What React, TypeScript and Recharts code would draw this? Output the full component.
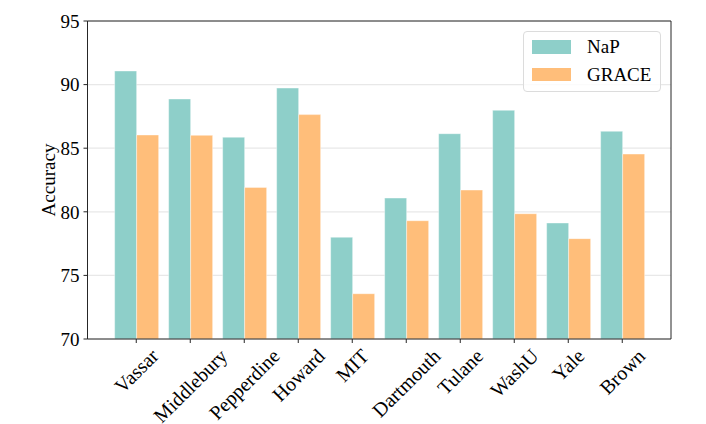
import React from 'react'
import { BarChart, Bar, XAxis, YAxis, CartesianGrid, Legend } from 'recharts'

const schools = ['Vassar', 'Middlebury', 'Pepperdine', 'Howard', 'MIT', 'Dartmouth', 'Tulane', 'WashU', 'Yale', 'Brown']
const napAcc = [91.07, 88.87, 85.86, 89.73, 78.0, 81.08, 86.14, 87.98, 79.12, 86.33]
const graceAcc = [86.04, 86.01, 81.92, 87.64, 73.56, 79.3, 81.71, 79.85, 77.89, 84.54]
const yTicks = [70, 75, 80, 85, 90, 95]

const data = schools.map((school, i) => ({ school, NaP: napAcc[i], GRACE: graceAcc[i] }))

const FONT = '"Liberation Serif", "Times New Roman", serif'
const FS = 19
const XFS = 20
const TEAL = '#8ECFC9'
const ORANGE = '#FFBE7A'
const SPINE = '#262626'

let ctx: CanvasRenderingContext2D | null = null
function textWidth(s: string, fs: number) {
  if (!ctx) ctx = document.createElement('canvas').getContext('2d')
  if (!ctx) return s.length * fs * 0.5
  ctx.font = `${fs}px ${FONT}`
  return ctx.measureText(s).width
}

function XTick(props: any) {
  const { x, y, payload } = props
  const w = textWidth(payload.value, XFS)
  const off = (w + XFS * 0.9) / (2 * Math.SQRT2)
  const cy = y + 3 + off
  return (
    <text
      x={x}
      y={cy}
      textAnchor='middle'
      dominantBaseline='central'
      transform={`rotate(-45 ${x} ${cy})`}
      fontFamily={FONT}
      fontSize={XFS}
      fill='#000'
    >
      {payload.value}
    </text>
  )
}

function YLabel(props: any) {
  const vb = props.viewBox || { x: 0, y: 21, width: 87.5, height: 318 }
  const x = vb.x + 48
  const y = vb.y + vb.height / 2
  return (
    <text x={x} y={y} transform={`rotate(-90 ${x} ${y})`} textAnchor='middle' dominantBaseline='central'
      fontFamily={FONT} fontSize={FS} fill='#000'>
      Accuracy
    </text>
  )
}

function LegendBox() {
  const rows = [
    { name: 'NaP', color: TEAL, top: 8 },
    { name: 'GRACE', color: ORANGE, top: 35.7 },
  ]
  return (
    <div style={{
      position: 'relative', width: 138, height: 61, boxSizing: 'border-box',
      border: '1px solid #dcdcdc', borderRadius: 4, background: 'rgba(255,255,255,0.8)',
      fontFamily: FONT, fontSize: FS, color: '#000',
    }}>
      {rows.map((r) => (
        <React.Fragment key={r.name}>
          <div style={{ position: 'absolute', left: 7.5, top: r.top, width: 39, height: 13.5, background: r.color }} />
          <div style={{ position: 'absolute', left: 63, top: r.top - 4, lineHeight: '21px' }}>{r.name}</div>
        </React.Fragment>
      ))}
    </div>
  )
}

// top and right spines, placed from the plot offset
const topSpine = ({ offset }: any) => [offset.top]
const rightSpine = ({ offset }: any) => [offset.left + offset.width]

export default function App(): JSX.Element {
  return (
    <div style={{ position: 'absolute', left: 0, top: 0 }}>
      <BarChart width={706} height={424} data={data} margin={{ top: 21, right: 35, bottom: 0, left: 0 }}
        barCategoryGap='10%' barGap={0}>
        <CartesianGrid vertical={false} stroke='#e8e8e8' strokeWidth={1.2} />
        <XAxis dataKey='school' height={85} padding={{ left: 21.75, right: 21.75 }} interval={0}
          tickSize={4} tickMargin={0} tick={<XTick />} axisLine={{ stroke: SPINE }} tickLine={{ stroke: SPINE }} />
        <YAxis domain={[70, 95]} ticks={yTicks} width={87.5} tickSize={4} tickMargin={4} allowDataOverflow
          tick={{ fontFamily: FONT, fontSize: FS, fill: '#000' }} axisLine={{ stroke: SPINE }} tickLine={{ stroke: SPINE }}
          label={{ value: 'Accuracy', content: YLabel }} />
        <Legend layout='vertical' align='center' verticalAlign='middle'
          wrapperStyle={{ left: 523, top: 31, width: 138, height: 61 }} content={<LegendBox />} />
        <Bar dataKey='NaP' fill={TEAL} stroke='#ffffff' strokeOpacity={0.5} strokeWidth={0.8} isAnimationActive={false} />
        <Bar dataKey='GRACE' fill={ORANGE} stroke='#ffffff' strokeOpacity={0.5} strokeWidth={0.8} isAnimationActive={false} />
        <CartesianGrid stroke={SPINE} strokeWidth={1} horizontalCoordinatesGenerator={topSpine}
          verticalCoordinatesGenerator={rightSpine} />
      </BarChart>
    </div>
  )
}
